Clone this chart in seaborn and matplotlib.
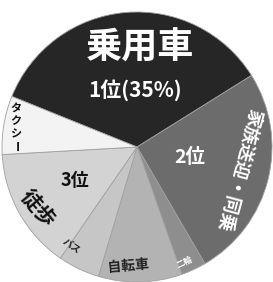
import matplotlib
matplotlib.use("Agg")
import matplotlib.pyplot as plt
import seaborn as sns

# Data
categories = ["乗用車", "家族送迎・同乗", "二輪", "自転車", "バス", "徒歩", "タクシー"]
shares = [35, 25.5, 3, 10, 5, 14.5, 7]
rank_labels = ["1位(35%)", "2位", "3位"]

sns.set_theme(style="white")
plt.rcParams['font.family'] = ['Noto Sans CJK JP', 'DejaVu Sans']

colors = ["#262626", "#6c6c6c", "#8e8e8e", "#b3b3b3", "#c6c6c6", "#d3d3d3", "#f3f3f3"]

W, H = 273, 282
fig = plt.figure(figsize=(W / 100, H / 100), dpi=100)
fig.patch.set_facecolor("white")
ax = fig.add_axes([0, 0, 1, 1])

ax.pie(shares, colors=colors, startangle=158, counterclock=False,
       center=(137, 135), radius=135,
       wedgeprops=dict(edgecolor="#a0a0a0", linewidth=0.6))
ax.set_xlim(0, W)
ax.set_ylim(0, H)
ax.set_aspect("equal")
ax.axis("off")


def put(x, y, s, size, color="black", rot=0, weight="bold"):
    # x, y in picture pixels (top-left origin)
    ax.text(x, H - y, s, fontsize=size, color=color, rotation=rot,
            ha="center", va="center", fontweight=weight,
            rotation_mode="anchor")


# Slice labels
put(140, 48, categories[0], 26, color="white")
put(135, 90, rank_labels[0], 15, color="white")
put(190, 157, rank_labels[1], 14, color="white")
put(239, 170, categories[1], 13, color="white", rot=-105)
put(185, 262, categories[2], 6, color="white", rot=25)
put(128, 266, categories[3], 10, color="#222222", rot=5)
put(72, 246, categories[4], 7, color="#222222", rot=-35)
put(75, 180, rank_labels[2], 13, color="#111111")
put(38, 208, categories[5], 15, color="#111111", rot=-50)

# vertical text, one glyph under the other
for i, ch in enumerate(categories[6]):
    put(16, 108 + i * 13, ch, 8, color="#111111", rot=-90 if ch == "ー" else 0)

fig.savefig("out.png", dpi=100)
